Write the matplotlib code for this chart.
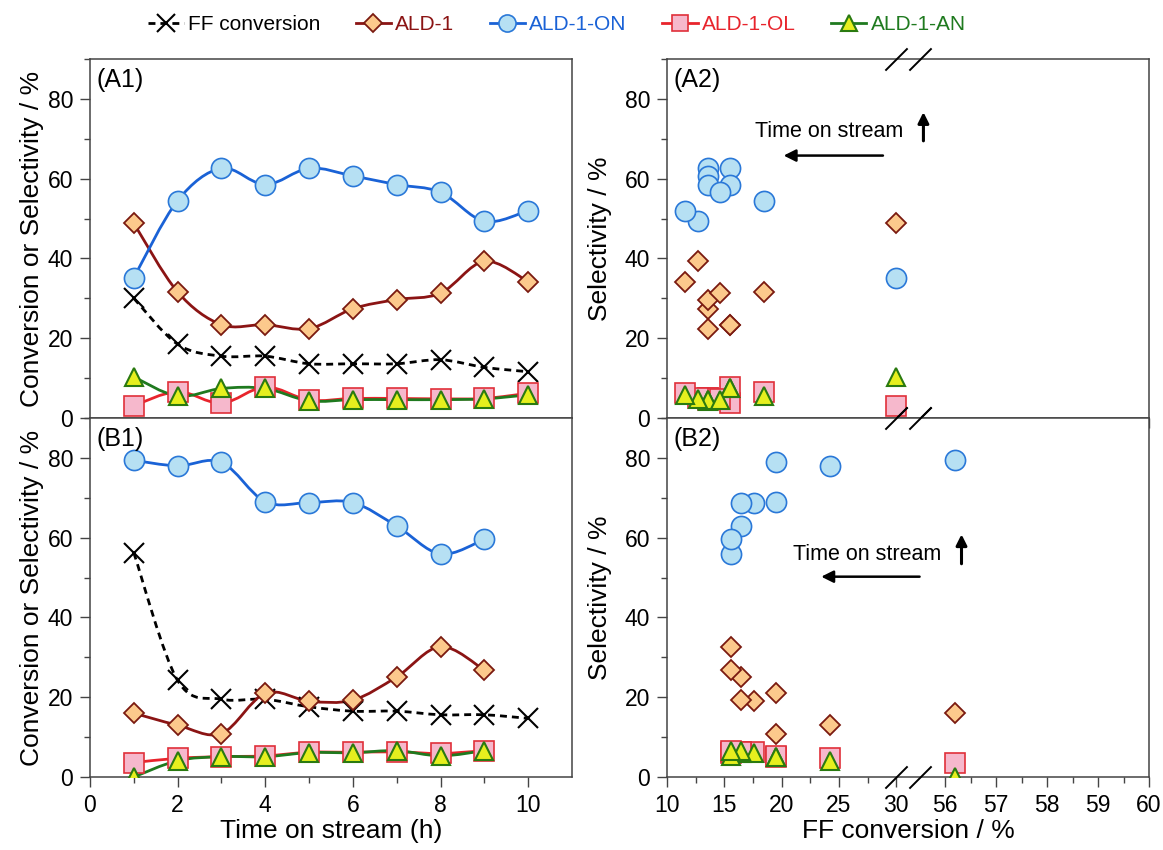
import numpy as np
import matplotlib
matplotlib.use('Agg')
import matplotlib.pyplot as plt
from matplotlib.path import Path
from matplotlib.patches import PathPatch
from matplotlib.lines import Line2D
import matplotlib.transforms as mtransforms

plt.rcParams['font.family'] = ['Liberation Sans', 'DejaVu Sans']

# ---- data ----
time_a = [1, 2, 3, 4, 5, 6, 7, 8, 9, 10]
ff_a = [30.0, 18.5, 15.5, 15.5, 13.6, 13.6, 13.6, 14.6, 12.7, 11.6]
ald1_a = [48.8, 31.6, 23.4, 23.4, 22.4, 27.4, 29.7, 31.3, 39.3, 34.2]
on_a = [35.2, 54.5, 62.6, 58.5, 62.6, 60.7, 58.5, 56.6, 49.3, 52.0]
ol_a = [3.1, 6.6, 3.7, 7.8, 4.5, 4.9, 4.9, 4.8, 4.9, 6.2]
an_a = [10.3, 5.5, 7.4, 7.4, 4.3, 4.6, 4.6, 4.6, 4.8, 5.8]

time_b = [1, 2, 3, 4, 5, 6, 7, 8, 9, 10]
ff_b = [56.2, 24.2, 19.5, 19.5, 17.6, 16.5, 16.5, 15.6, 15.6, 14.7]
ald1_b = [16.0, 13.0, 10.9, 21.0, 19.0, 19.3, 25.1, 32.7, 26.8]
on_b = [79.4, 78.0, 78.9, 69.0, 68.8, 68.8, 62.9, 55.9, 59.6]
ol_b = [3.6, 4.7, 5.1, 5.3, 6.2, 6.2, 6.3, 5.9, 6.6]
an_b = [0.0, 4.1, 5.1, 5.1, 6.1, 6.1, 6.6, 5.3, 6.6]

ff_ticks = [10, 15, 20, 25, 30, 56, 57, 58, 59, 60]
ff_minor = [12.5, 17.5, 22.5, 27.5, 56.5, 57.5, 58.5, 59.5]

# ---- styles ----
st_ff = dict(marker='x', color='k', mec='k', ms=15, mew=1.5)
st_ald1 = dict(marker='D', color='#8b1414', mfc='#fcc98c', mec='#7a1a10', ms=10.5, mew=1.3)
st_on = dict(marker='o', color='#1a62d6', mfc='#b6e0f3', mec='#2a78d8', ms=14.5, mew=1.2)
st_ol = dict(marker='s', color='#e8242c', mfc='#f6b8cc', mec='#e0303a', ms=14, mew=1.2)
st_an = dict(marker='^', color='#1f7a1f', mfc='#e6ef1e', mec='#2a7a10', ms=13.5, mew=1.5)
spine_c = '#444444'


def smooth_path(x, y):
    # Catmull-Rom through the data points, drawn as cubic Bezier segments
    pts = np.column_stack([x, y]).astype(float)
    ext = np.vstack([pts[0], pts, pts[-1]])
    verts = [pts[0]]
    codes = [Path.MOVETO]
    for i in range(len(pts) - 1):
        p0, p1, p2, p3 = ext[i], ext[i + 1], ext[i + 2], ext[i + 3]
        verts += [p1 + (p2 - p0) / 6, p2 - (p3 - p1) / 6, p2]
        codes += [Path.CURVE4] * 3
    return Path(verts, codes)


def series(ax, x, y, st, ls='-'):
    ax.add_patch(PathPatch(smooth_path(x, y), fill=False, edgecolor=st['color'],
                           lw=2, ls=ls, zorder=2))
    kw = {k: v for k, v in st.items() if k != 'color'}
    ax.plot(x, y, ls='none', zorder=3, **kw)


def dots(ax, x, y, st):
    kw = {k: v for k, v in st.items() if k != 'color'}
    ax.plot(x, y, ls='none', zorder=3, **kw)


def style_axes(ax):
    for s in ax.spines.values():
        s.set_color(spine_c)
        s.set_linewidth(1.1)
    ax.tick_params(which='both', direction='out', color=spine_c, width=1,
                   labelsize=16.5, pad=5, top=False, right=False)
    ax.tick_params(which='major', length=7)
    ax.tick_params(which='minor', length=4.5)
    ax.set_ylim(0, 90)
    ax.set_yticks([0, 20, 40, 60, 80])
    ax.set_yticks([10, 30, 50, 70, 90], minor=True)


fig = plt.figure(figsize=(11.63, 8.5), dpi=100)
W, H = 1163, 850
xl, xr, pw = 90, 667, 482
yt_top, yt_bot, ph = 59, 418, 359
ax_a1 = fig.add_axes([xl / W, (H - 418) / H, pw / W, ph / H])
ax_b1 = fig.add_axes([xl / W, (H - 777) / H, pw / W, ph / H])
ax_a2 = fig.add_axes([xr / W, (H - 418) / H, pw / W, ph / H])
ax_b2 = fig.add_axes([xr / W, (H - 777) / H, pw / W, ph / H])

# left column: vs time on stream
for ax, t, ff, a1, on, ol, an in [(ax_a1, time_a, ff_a, ald1_a, on_a, ol_a, an_a),
                                  (ax_b1, time_b, ff_b, ald1_b, on_b, ol_b, an_b)]:
    style_axes(ax)
    n = len(a1)
    series(ax, t, ff, st_ff, ls=(0, (2.5, 1.8)))
    series(ax, t[:n], a1, st_ald1)
    series(ax, t[:n], on, st_on)
    series(ax, t[:n], ol, st_ol)
    series(ax, t[:n], an, st_an)
    ax.set_xlim(0, 11)
    ax.set_xticks(range(0, 11, 2))
    ax.set_xticks(range(1, 11, 2), minor=True)
    ax.set_ylabel('Conversion or Selectivity / %', fontsize=19)
    ax.yaxis.set_label_coords(-0.095, 0.5)
ax_a1.tick_params(labelbottom=False)
ax_b1.set_xlabel('Time on stream (h)', fontsize=19, labelpad=2)

# right column: selectivity vs FF conversion, broken axis
bx = [10, 31, 55.5, 60]
by = [0, 240.8, 252.8, 482.3]


def fwd(v):
    return np.interp(v, bx, by)


def inv(v):
    return np.interp(v, by, bx)


for ax, ff, a1, on, ol, an in [(ax_a2, ff_a, ald1_a, on_a, ol_a, an_a),
                               (ax_b2, ff_b, ald1_b, on_b, ol_b, an_b)]:
    style_axes(ax)
    n = len(a1)
    ax.set_xscale('function', functions=(fwd, inv))
    ax.set_xlim(10, 60)
    ax.set_xticks(ff_ticks)
    ax.set_xticklabels([str(v) for v in ff_ticks])
    ax.set_xticks(ff_minor, minor=True)
    ax.xaxis.set_minor_formatter(plt.NullFormatter())
    dots(ax, ff[:n], on, st_on)
    dots(ax, ff[:n], a1, st_ald1)
    dots(ax, ff[:n], ol, st_ol)
    dots(ax, ff[:n], an, st_an)
    ax.set_ylabel('Selectivity / %', fontsize=19)
    ax.yaxis.set_label_coords(-0.115, 0.5)
    # break marks
    trans = mtransforms.blended_transform_factory(ax.transData, ax.transAxes)
    for yy in (0, 1):
        ax.plot([30, 55.5], [yy, yy], transform=trans, ls='none',
                marker=[(-1, -1), (1, 1)], ms=16, mew=1.4, color='k',
                clip_on=False, zorder=5)
ax_a2.tick_params(labelbottom=False)
ax_b2.set_xlabel('FF conversion / %', fontsize=19, labelpad=2)

# "time on stream" arrows
for ax, tx, ty, ax0, ax1, ay, ux, uy0, uy1 in [
        (ax_a2, 0.183, 0.797, 0.448, 0.242, 0.731, 0.532, 0.772, 0.852),
        (ax_b2, 0.261, 0.621, 0.524, 0.320, 0.558, 0.611, 0.594, 0.676)]:
    ax.text(tx, ty, 'Time on stream', transform=ax.transAxes, fontsize=15.5,
            ha='left', va='center')
    ax.annotate('', xy=(ax1, ay), xytext=(ax0, ay), xycoords='axes fraction',
                arrowprops=dict(arrowstyle='-|>', color='k', lw=1.8,
                                mutation_scale=18, shrinkA=0, shrinkB=0))
    ax.annotate('', xy=(ux, uy1), xytext=(ux, uy0), xycoords='axes fraction',
                arrowprops=dict(arrowstyle='-|>', color='k', lw=2.2,
                                mutation_scale=16, shrinkA=0, shrinkB=0))

for ax, lab in [(ax_a1, '(A1)'), (ax_b1, '(B1)'), (ax_a2, '(A2)'), (ax_b2, '(B2)')]:
    ax.text(0.014, 0.975, lab, transform=ax.transAxes, fontsize=18,
            ha='left', va='top')

# legend
handles = [
    Line2D([], [], ls=(0, (2.5, 1.8)), lw=2, **st_ff),
    Line2D([], [], lw=2, **st_ald1),
    Line2D([], [], lw=2, **st_on),
    Line2D([], [], lw=2, **st_ol),
    Line2D([], [], lw=2, **st_an),
]
labels = ['FF conversion', 'ALD-1', 'ALD-1-ON', 'ALD-1-OL', 'ALD-1-AN']
fig.legend(handles, labels, loc='center', bbox_to_anchor=(557 / W, 1 - 25 / H),
           ncol=5, frameon=False, fontsize=15, handlelength=1.7,
           handletextpad=0.2, columnspacing=1.7, markerscale=0.85,
           labelcolor=['k', '#8b1414', '#1a62d6', '#e8242c', '#1f7a1f'])

fig.savefig('out.png', dpi=100)
